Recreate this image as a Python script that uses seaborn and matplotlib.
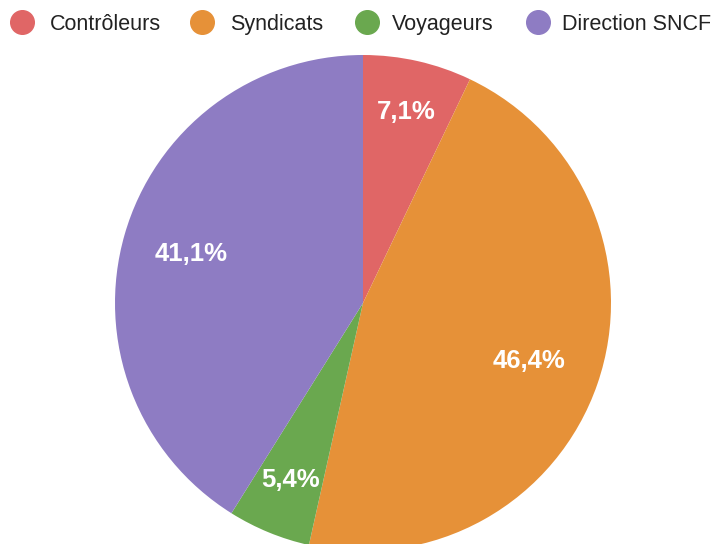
import matplotlib
matplotlib.use('Agg')
import matplotlib.pyplot as plt
import numpy as np
import seaborn as sns

sns.set_theme(style='white')
plt.rcParams['font.family'] = ['Liberation Sans', 'DejaVu Sans']

# Data
labels = ['Contrôleurs', 'Syndicats', 'Voyageurs', 'Direction SNCF']
values = [7.1, 46.4, 5.4, 41.1]
colors = ['#e06666', '#e69138', '#6aa84f', '#8e7cc3']

# label distance from centre (fraction of radius) per slice
label_dist = [0.79, 0.71, 0.77, 0.72]

fig = plt.figure(figsize=(7.15, 5.44), dpi=100)
ax = fig.add_axes([0, 0, 1, 1])

cx, cy, r = 363, 241, 248
wedges, texts, autotexts = ax.pie(
    values, colors=colors, startangle=90, counterclock=False,
    center=(cx, cy), radius=r, pctdistance=0.75,
    autopct=lambda p: f"{p:.1f}".replace('.', ',') + '%',
    textprops=dict(color='white', fontsize=18.5, fontweight='bold'),
    wedgeprops=dict(linewidth=0), frame=True,
)
for w, t, d in zip(wedges, autotexts, label_dist):
    ang = np.deg2rad((w.theta1 + w.theta2) / 2)
    t.set_position((cx + d * r * np.cos(ang), cy + d * r * np.sin(ang)))

ax.set_xlim(0, 715)
ax.set_ylim(0, 544)
ax.set_aspect('equal')
ax.axis('off')

# legend row at the top
marker_x = [22, 202, 367, 538]
text_x = [50, 230, 392, 562]
ly = 544 - 22
for mx, tx, lab, c in zip(marker_x, text_x, labels, colors):
    ax.plot([mx], [ly], marker='o', markersize=17, color=c, linestyle='',
            clip_on=False)
    ax.text(tx, ly, lab, fontsize=15.5, color='#222222', va='center_baseline',
            ha='left')

fig.savefig('out.png', dpi=100)
